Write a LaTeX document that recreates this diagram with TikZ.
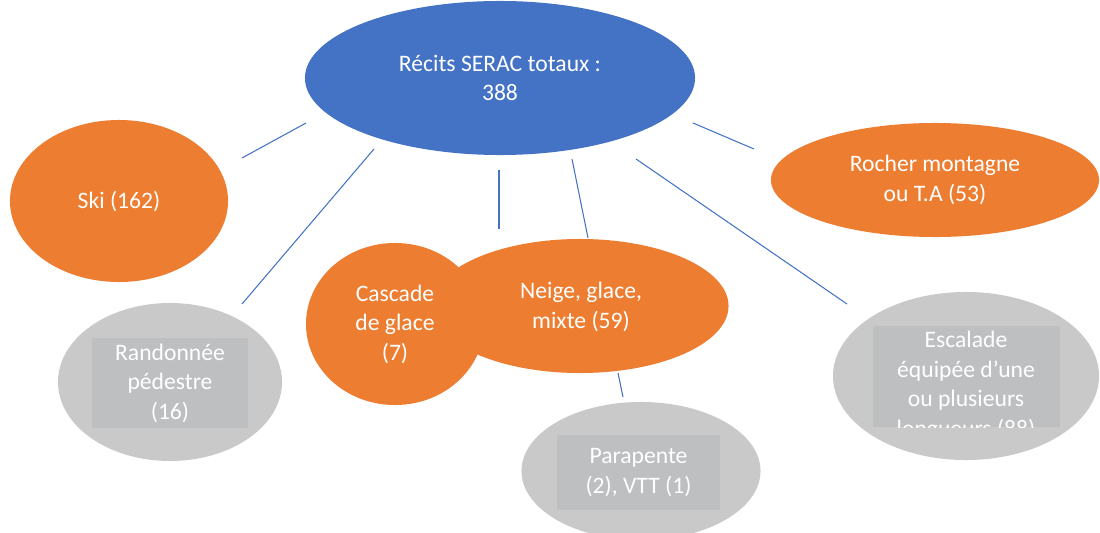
\documentclass[tikz,border=0pt]{standalone}
\usepackage{fontspec}
\setmainfont{Carlito}
\usetikzlibrary{shapes.geometric, positioning}
\definecolor{serBlue}{HTML}{4472C4}
\definecolor{serOrange}{HTML}{ED7D31}
\definecolor{serGrey}{HTML}{C9C9CA}
\definecolor{serBox}{HTML}{BEBFC1}
\tikzset{
    bubble/.style={ellipse, inner sep=0pt, text=white, align=center, font=\fontsize{16.8}{21}\selectfont},
    mainBubble/.style={bubble, fill=serBlue},
    catBubble/.style={bubble, fill=serOrange},
    minorBubble/.style={bubble, fill=serGrey},
    minorBox/.style={rectangle, fill=serBox, inner sep=0pt, text=white, align=center, font=\fontsize{16.8}{21}\selectfont},
    boxText/.style={inner sep=0pt, text=white, align=center, font=\fontsize{16.8}{21}\selectfont},
    serLink/.style={serBlue, line width=0.75pt},
}
\newcommand{\drawLink}[2]{
    \draw[serLink] (#1) -- (#2);
}
\begin{document}
\begin{tikzpicture}[x=0.025cm, y=-0.025cm]
        \useasboundingbox (0,0) rectangle (1100,533);

        % bulles
        \node[mainBubble, minimum width=9.75cm, minimum height=3.85cm] (total) at (500,78) {Récits SERAC totaux :\\388};
        \node[catBubble, minimum width=5.45cm, minimum height=4.05cm] (ski) at (119,201) {Ski (162)};
        \node[catBubble, minimum width=8.2cm, minimum height=2.85cm] (rocher) at (935,180) {Rocher montagne\\ou T.A (53)};
        \node[catBubble, minimum width=7.425cm, minimum height=3.35cm] (neige) at (580,306) {};
        \node[catBubble, minimum width=4.45cm, minimum height=4.05cm] (cascade) at (395,324) {Cascade\\de glace\\(7)};
        \node[bubble] (neigeText) at (581,307) {Neige, glace,\\mixte (59)};
        \node[minorBubble, minimum width=5.6cm, minimum height=3.95cm] (rando) at (170,382) {};
        \node[minorBubble, minimum width=6.65cm, minimum height=4.2cm] (escalade) at (966,376) {};
        \node[minorBubble, minimum width=5.975cm, minimum height=3.45cm] (parapente) at (641,471) {};

        % cadres gris
        \node[minorBox, minimum width=3.9cm, minimum height=2.25cm] (randoBox) at (170,383) {Randonnée\\pédestre\\(16)};
        \node[minorBox, minimum width=4.075cm, minimum height=1.875cm] (paraBox) at (638.5,472.5) {Parapente\\(2), VTT (1)};
        \node[minorBox, minimum width=4.675cm, minimum height=2.525cm] (escBox) at (966.5,376.5) {};
        \begin{scope}
            \clip (escBox.south west) rectangle (escBox.north east);
            \node[boxText] (escText) at (966,386) {Escalade\\équipée d’une\\ou plusieurs\\longueurs (88)};
        \end{scope}

        % liens
        \coordinate (tSki) at (306,123);
        \coordinate (eSki) at (242,158);
        \coordinate (tRando) at (374,149);
        \coordinate (eRando) at (242,304);
        \coordinate (tCascade) at (499,170);
        \coordinate (eCascade) at (499,229);
        \coordinate (tNeige) at (572,159);
        \coordinate (eNeige) at (588,238);
        \coordinate (tEsc) at (636,159);
        \coordinate (eEsc) at (847,304);
        \coordinate (tRocher) at (693,123);
        \coordinate (eRocher) at (754,149);
        \coordinate (tPara) at (618,373);
        \coordinate (ePara) at (623,397);

        \drawLink{tSki}{eSki}
        \drawLink{tRando}{eRando}
        \drawLink{tCascade}{eCascade}
        \drawLink{tNeige}{eNeige}
        \drawLink{tEsc}{eEsc}
        \drawLink{tRocher}{eRocher}
        \drawLink{tPara}{ePara}

    \end{tikzpicture}
\end{document}
